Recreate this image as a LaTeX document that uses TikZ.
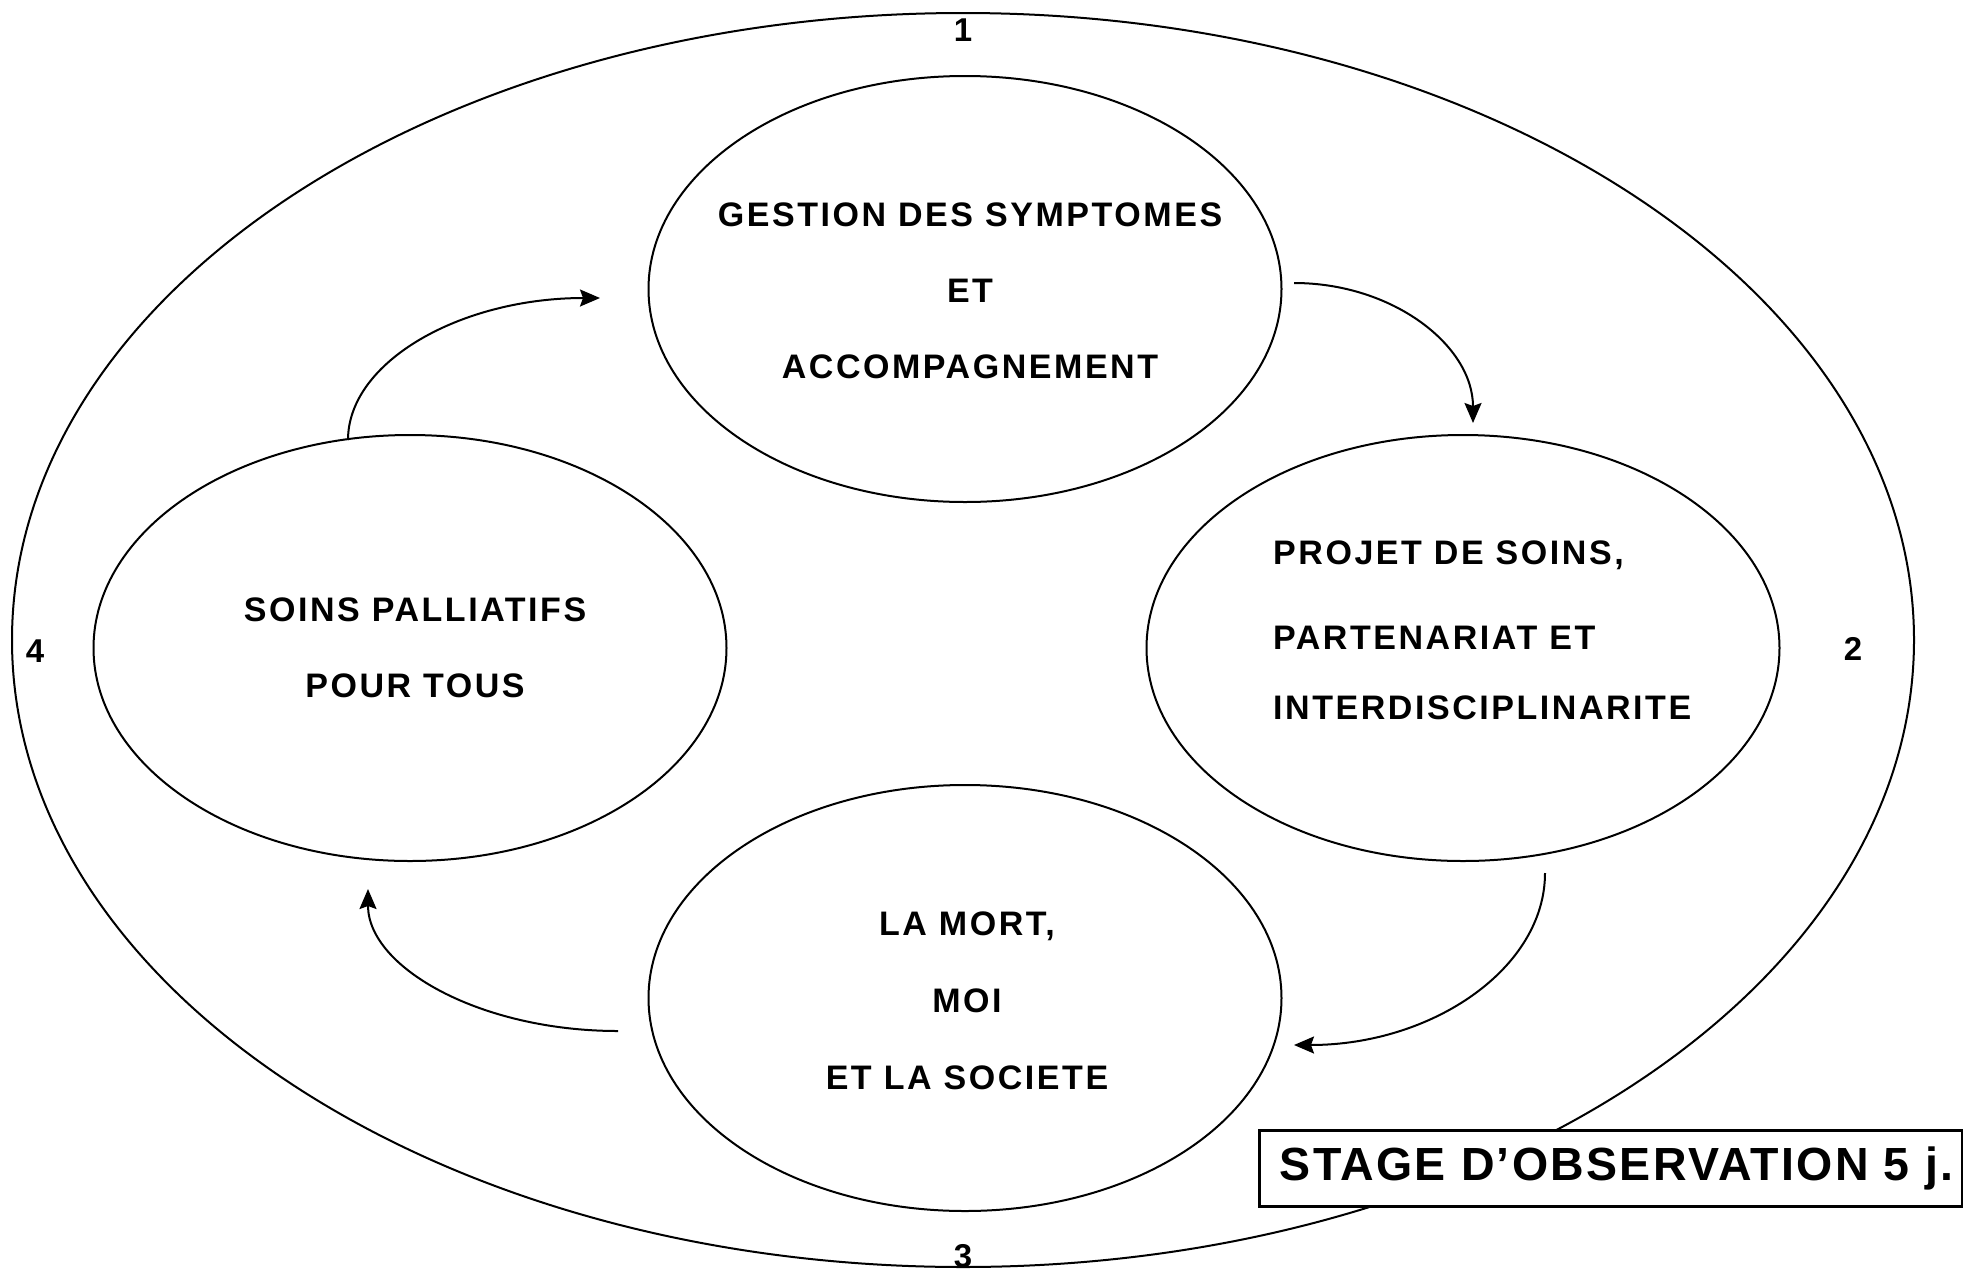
\documentclass[tikz,border=0pt]{standalone}
\usepackage{fontspec}
\setmainfont{Liberation Sans}
\newfontfamily\spaced[LetterSpace=7.5]{Liberation Sans}
\newfontfamily\boxfont[LetterSpace=5]{Liberation Sans}
\usetikzlibrary{arrows.meta,calc,shapes.geometric}
\begin{document}
\begin{tikzpicture}[x=1pt,y=-1pt,
  oval/.style={ellipse, draw, line width=2pt, inner sep=0pt, minimum width=633pt, minimum height=426pt},
  blk/.style={inner sep=0pt, font=\spaced\bfseries\fontsize{34}{76}\selectfont},
  num/.style={inner sep=0pt, font=\bfseries\fontsize{33}{40}\selectfont},
  arr/.style={line width=2pt, -{Stealth[length=20pt,width=17pt,inset=3pt]}},
]
\useasboundingbox (0,0) rectangle (1963,1272);
\fill[white] (0,0) rectangle (1963,1272);

% outer ellipse
\node[ellipse, draw, line width=2pt, inner sep=0pt, minimum width=1902pt, minimum height=1254pt] (outer) at (963,640) {};

% inner ellipses
\node[oval] (top) at (965,289) {};
\node[oval] (left) at (410,648) {};
\node[oval] (right) at (1463,648) {};
\node[oval] (bottom) at (965,998) {};

% texts
\node[blk, align=center] (ttop) at (970,291) {GESTION DES SYMPTOMES\\ET\\ACCOMPAGNEMENT};
\node[blk, align=left, anchor=west, font=\spaced\bfseries\fontsize{34}{70}\selectfont] (tright) at (1273,630.5) {PROJET DE SOINS,\\[15pt]PARTENARIAT ET\\INTERDISCIPLINARITE};
\node[blk, align=center, font=\spaced\bfseries\fontsize{34}{76}\selectfont] (tleft) at (415,648) {SOINS PALLIATIFS\\POUR TOUS};
\node[blk, align=center, font=\spaced\bfseries\fontsize{34}{77}\selectfont] (tbottom) at (967,1000.5) {LA MORT,\\MOI\\ET LA SOCIETE};

% numbers
\node[num] (n1) at (963,30) {1};
\node[num] (n2) at (1853,649) {2};
\node[num] (n3) at (963,1256) {3};
\node[num] (n4) at (35,651) {4};

% box
\node[draw, line width=3pt, fill=white, inner sep=0pt, minimum width=703pt, minimum height=76pt,
      font=\boxfont\bfseries\fontsize{46.5}{56}\selectfont] (stage) at (1610.5,1168) {\hspace*{12pt}STAGE D’OBSERVATION 5 j.};

% arrow end points
\coordinate (a1s) at (348,440);
\coordinate (a1e) at (600,298);
\coordinate (a2s) at (1294,283);
\coordinate (a2e) at (1473,423);
\coordinate (a3s) at (1545,873);
\coordinate (a3e) at (1294,1045);
\coordinate (a4s) at (618,1031);
\coordinate (a4e) at (368,889);

\draw[arr] (a1s) .. controls ($(a1s)+(0,-78.4)$) and ($(a1e)+(-139.2,0)$) .. (a1e);
\draw[arr] (a2s) .. controls ($(a2s)+(98.9,0)$) and ($(a2e)+(0,-77.3)$) .. (a2e);
\draw[arr] (a3s) .. controls ($(a3s)+(0,95)$) and ($(a3e)+(138.6,0)$) .. (a3e);
\draw[arr] (a4s) .. controls ($(a4s)+(-138,0)$) and ($(a4e)+(0,78.4)$) .. (a4e);
\end{tikzpicture}
\end{document}
